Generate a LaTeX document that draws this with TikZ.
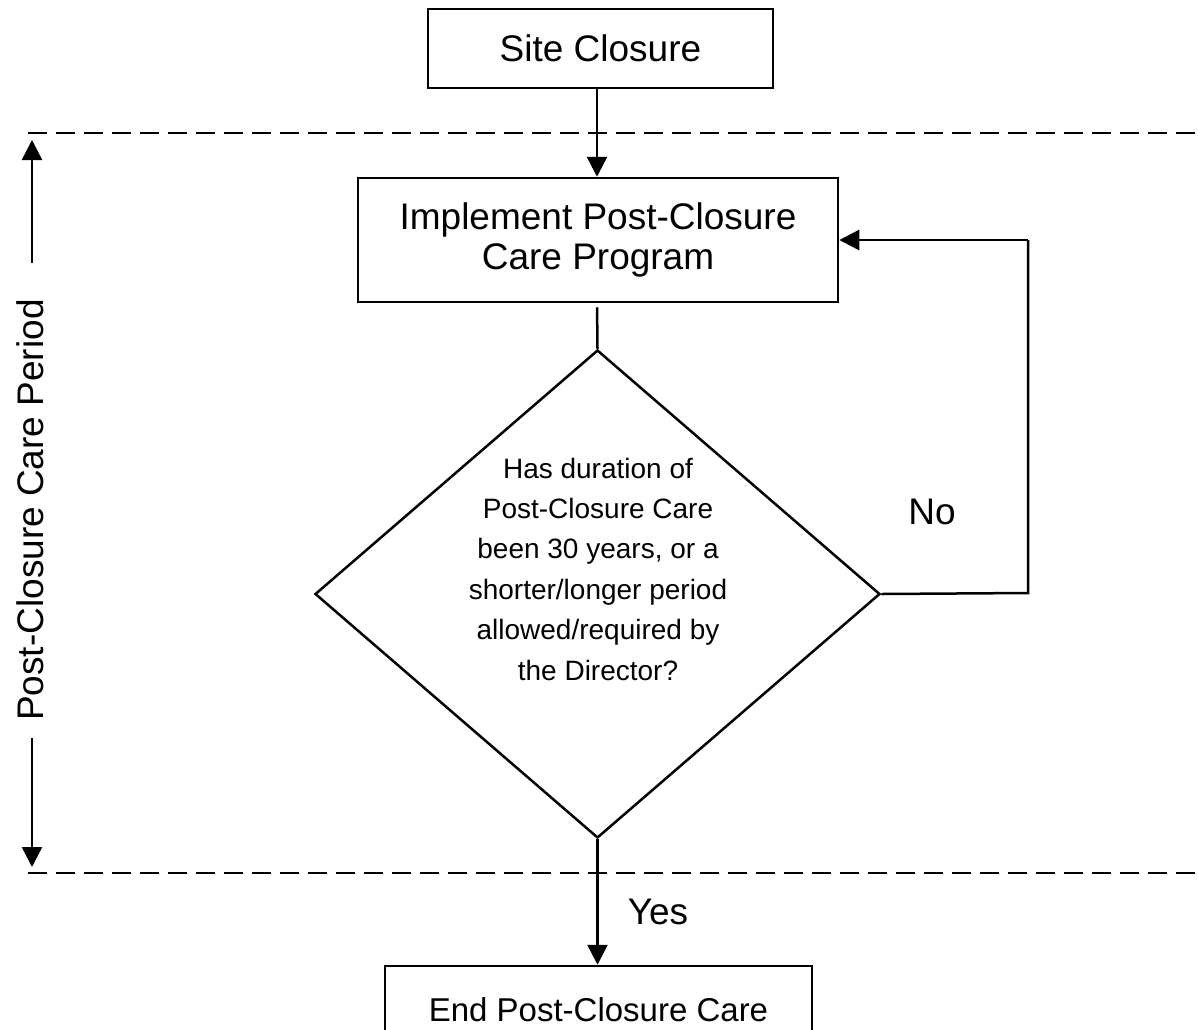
\documentclass[tikz,border=0pt]{standalone}
\usepackage{fontspec}
\setmainfont{Liberation Sans}
\usetikzlibrary{arrows.meta,shapes.geometric}
\begin{document}
\begin{tikzpicture}[x=1pt,y=-1pt,
  line width=2.5pt,
  boxnode/.style={draw, rectangle, inner sep=0pt, align=center},
  bigtext/.style={font=\fontsize{37}{40}\selectfont},
  smalltext/.style={font=\fontsize{28}{40.4}\selectfont},
  arr/.style={-{Triangle[length=20pt,width=20pt]}},
  dashline/.style={dash pattern=on 19pt off 9pt, line width=2.5pt}
]
\useasboundingbox (0,0) rectangle (1198,1029);
\clip (0,0) rectangle (1198,1029);
% nodes
\node[boxnode, bigtext, minimum width=345pt, minimum height=79pt] (site) at (600.5,48.5) {Site Closure};
\node[boxnode, bigtext, minimum width=480pt, minimum height=124pt] (impl) at (598,240) {Implement Post-Closure\\Care Program};
\node[draw, diamond, minimum width=565pt, minimum height=488pt, inner sep=0pt] (dia) at (597.5,594) {};
\node[smalltext, align=center] (diatext) at (598,569) {Has duration of\\Post-Closure Care\\been 30 years, or a\\shorter/longer period\\allowed/required by\\the Director?};
\node[boxnode, font=\fontsize{33}{38}\selectfont, minimum width=427pt, minimum height=88pt] (endbox) at (598.5,1010) {End Post-Closure Care};
\node[bigtext] (no) at (932,512) {No};
\node[bigtext] (yes) at (658,912) {Yes};
\node[bigtext, rotate=90] (period) at (30,510) {Post-Closure Care Period};
% dashed boundaries
\coordinate (dtl) at (28,133);
\coordinate (dtr) at (1198,133);
\coordinate (dbl) at (28,873);
\coordinate (dbr) at (1198,873);
\draw[dashline] (dtl) -- (dtr);
\draw[dashline] (dbl) -- (dbr);
% period arrows
\coordinate (upstart) at (32,263);
\coordinate (uptip) at (32,140);
\coordinate (downstart) at (32,738);
\coordinate (downtip) at (32,867);
\draw[arr] (upstart) -- (uptip);
\draw[arr] (downstart) -- (downtip);
% connectors
\draw[arr] (site.south -| 597,0) -- (impl.north -| 597,0);
\draw[shorten <=4pt] (impl.south -| 597,0) -- (dia.north);
\coordinate (loopa) at (1028,593);
\coordinate (loopb) at (1028,240);
\draw (dia.east) -- (loopa) -- (loopb);
\draw[arr] (loopb) -- (impl.east);
\draw[arr] (dia.south) -- (endbox.north -| dia.south);
\end{tikzpicture}
\end{document}
